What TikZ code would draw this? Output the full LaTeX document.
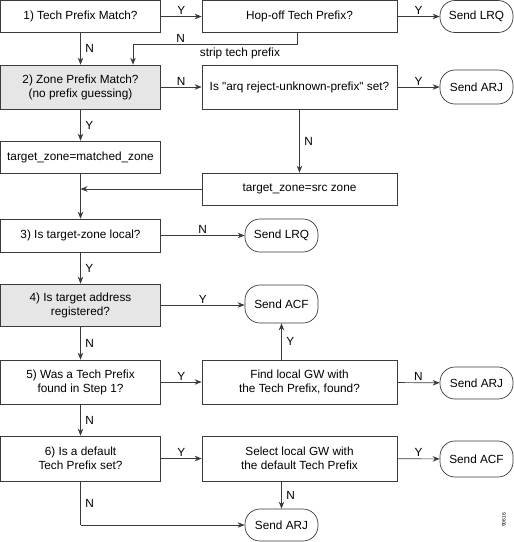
\documentclass[tikz,border=0pt]{standalone}
\usepackage{fontspec}
\setmainfont{Liberation Sans}[Ligatures=TeXOff]
\usetikzlibrary{arrows.meta}
\definecolor{boxgray}{HTML}{E6E6E6}
\definecolor{linec}{HTML}{3A3A3A}
\tikzset{
  box/.style={draw=linec, line width=0.7pt, minimum width=160pt, inner sep=1pt, align=center, font=\fontsize{11.8}{14}\selectfont},
  midbox/.style={box, minimum width=195pt},
  shaded/.style={fill=boxgray},
  term/.style={draw=linec, line width=0.7pt, minimum width=73pt, rounded corners=15pt, inner sep=1pt, align=center, font=\fontsize{11.8}{14}\selectfont},
  arr/.style={draw=linec, line width=0.7pt, -{Stealth[length=7pt,width=5.5pt]}},
  ln/.style={draw=linec, line width=0.7pt},
  lab/.style={font=\fontsize{11.8}{14}\selectfont, inner sep=1.5pt}
}
\begin{document}
\begin{tikzpicture}[x=1pt,y=-1pt]
\useasboundingbox (0,0) rectangle (514,542);
% left column
\node[box, minimum height=32pt] (b1) at (80.5,16.5) {1) Tech Prefix Match?};
\node[box, shaded, minimum height=44pt] (b2) at (80.5,87) {2) Zone Prefix Match?\\(no prefix guessing)};
\node[box, minimum height=32pt] (bm) at (80.5,157) {target\_zone=matched\_zone};
\node[box, minimum height=33pt] (b3) at (80.5,235.5) {3) Is target-zone local?};
\node[box, shaded, minimum height=42pt] (b4) at (80.5,305) {4) Is target address\\registered?};
\node[box, minimum height=44pt] (b5) at (80.5,382) {5) Was a Tech Prefix\\found in Step 1?};
\node[box, minimum height=45pt] (b6) at (80.5,458.5) {6) Is a default\\Tech Prefix set?};
% middle column
\node[midbox, minimum height=32pt] (hop) at (299.5,16.5) {Hop-off Tech Prefix?};
\node[midbox, minimum height=44pt] (arq) at (299.5,87) {Is "arq reject-unknown-prefix" set?};
\node[midbox, minimum height=32pt] (src) at (299.5,189) {target\_zone=src zone};
\node[midbox, minimum height=44pt] (find) at (299.5,382) {Find local GW with\\the Tech Prefix, found?};
\node[midbox, minimum height=45pt] (sel) at (299.5,458.5) {Select local GW with\\the default Tech Prefix};
% terminals
\node[term, minimum height=32pt] (lrq1) at (476.5,16.5) {Send LRQ};
\node[term, minimum height=34pt] (arj1) at (476.5,87) {Send ARJ};
\node[term, minimum height=33pt] (lrq2) at (281.5,235.5) {Send LRQ};
\node[term, minimum height=38pt] (acf1) at (281.5,304) {Send ACF};
\node[term, minimum height=32pt] (arj2) at (476.5,383) {Send ARJ};
\node[term, minimum height=36pt] (acf2) at (476.5,459) {Send ACF};
\node[term, minimum height=32pt] (arj3) at (281.5,525) {Send ARJ};
\coordinate (hopd) at (297,44);
\coordinate (hopl) at (133,44);
\coordinate (mrg) at (80.5,189);
\coordinate (b6c) at (80.5,525);
% connectors
\draw[arr] (b1) -- node[lab, above] {Y} (hop);
\draw[arr] (hop) -- node[lab, above] {Y} (lrq1);
\draw[arr] (b1) -- node[lab, right=3pt] {N} (b2);
\draw[ln] (hop.south -| hopd) -- (hopd) -- node[lab, pos=0.71, above] {N} (hopl);
\draw[arr] (hopl) -- (hopl |- b2.north);
\node[lab, anchor=north] (strip) at (240,46) {strip tech prefix};
\draw[arr] (b2) -- node[lab, above] {N} (arq);
\draw[arr] (arq) -- node[lab, above] {Y} (arj1);
\draw[arr] (arq) -- node[lab, right=3pt] {N} (src);
\draw[arr] (b2) -- node[lab, right=3pt] {Y} (bm);
\draw[arr] (src) -- (mrg);
\draw[arr] (bm) -- (b3);
\draw[arr] (b3) -- node[lab, above] {N} (lrq2);
\draw[arr] (b3) -- node[lab, right=3pt] {Y} (b4);
\draw[arr] (b4.east) -- node[lab, above] {Y} (b4.east -| acf1.west);
\draw[arr] (b4) -- node[lab, right=3pt] {N} (b5);
\draw[arr] (b5) -- node[lab, above] {Y} (find);
\draw[arr] (find) -- node[lab, above] {N} (arj2);
\draw[arr] (find.north -| acf1) -- node[lab, right=3pt] {Y} (acf1);
\draw[arr] (b5) -- node[lab, right=3pt] {N} (b6);
\draw[arr] (b6) -- node[lab, above] {Y} (sel);
\draw[arr] (sel) -- node[lab, above] {Y} (acf2);
\draw[arr] (sel.south -| arj3) -- node[lab, right=3pt] {N} (arj3);
\draw[ln] (b6) -- node[lab, right=3pt, pos=0.5] {N} (b6c);
\draw[arr] (b6c) -- (arj3);
\node[font=\fontsize{5}{6}\selectfont, rotate=90, inner sep=0pt] (fig) at (504,520) {90616};
\end{tikzpicture}
\end{document}
